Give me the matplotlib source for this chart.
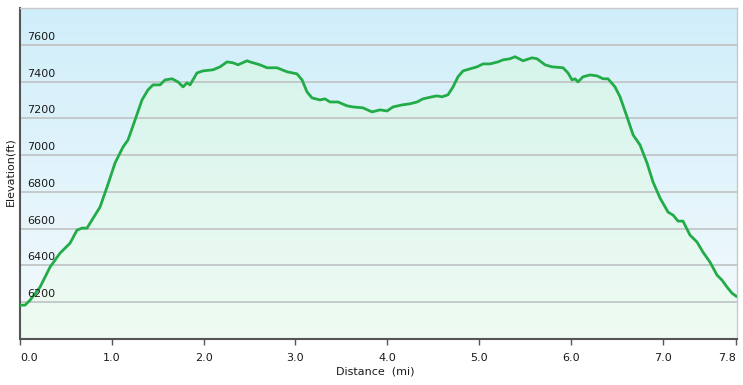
import numpy as np
import matplotlib
matplotlib.use("Agg")
import matplotlib.pyplot as plt
from matplotlib.colors import LinearSegmentedColormap
import matplotlib.transforms as mtransforms

# ---- data ----
distance_mi = [0.0, 0.054, 0.109, 0.218, 0.327, 0.436, 0.545, 0.621, 0.675, 0.730,
               0.784, 0.871, 0.948, 1.035, 1.122, 1.176, 1.253, 1.329, 1.394, 1.449,
               1.525, 1.580, 1.656, 1.721, 1.776, 1.819, 1.852, 1.928, 1.993, 2.102,
               2.179, 2.255, 2.320, 2.375, 2.473, 2.505, 2.614, 2.691, 2.800, 2.909,
               3.017, 3.072, 3.126, 3.181, 3.268, 3.322, 3.377, 3.464, 3.562, 3.627,
               3.736, 3.834, 3.922, 3.998, 4.063, 4.161, 4.248, 4.325, 4.390, 4.488,
               4.542, 4.597, 4.662, 4.717, 4.771, 4.826, 4.902, 4.978, 5.044, 5.120,
               5.207, 5.261, 5.338, 5.392, 5.479, 5.577, 5.632, 5.719, 5.795, 5.915,
               5.969, 6.013, 6.046, 6.078, 6.133, 6.209, 6.285, 6.351, 6.405, 6.481,
               6.536, 6.612, 6.678, 6.754, 6.830, 6.895, 6.972, 7.059, 7.113, 7.168,
               7.222, 7.298, 7.375, 7.440, 7.516, 7.593, 7.647, 7.702, 7.756, 7.800]
elevation_ft = [6184, 6184, 6211, 6282, 6391, 6467, 6521, 6592, 6603, 6603,
                6647, 6717, 6826, 6957, 7044, 7082, 7191, 7300, 7355, 7382,
                7382, 7409, 7415, 7398, 7371, 7393, 7382, 7447, 7458, 7464,
                7480, 7507, 7502, 7491, 7513, 7507, 7491, 7475, 7475, 7453,
                7442, 7409, 7344, 7311, 7300, 7306, 7289, 7289, 7268, 7262,
                7257, 7235, 7246, 7240, 7262, 7273, 7279, 7289, 7306, 7317,
                7322, 7317, 7328, 7371, 7426, 7458, 7469, 7480, 7496, 7496,
                7507, 7518, 7524, 7535, 7513, 7529, 7524, 7491, 7480, 7475,
                7447, 7409, 7415, 7398, 7426, 7436, 7431, 7415, 7415, 7371,
                7317, 7208, 7110, 7055, 6957, 6854, 6766, 6690, 6674, 6641,
                6641, 6565, 6527, 6472, 6418, 6347, 6320, 6282, 6249, 6233]

x_ticks = [0.0, 1.0, 2.0, 3.0, 4.0, 5.0, 6.0, 7.0, 7.8]
x_tick_labels = ["0.0", "1.0", "2.0", "3.0", "4.0", "5.0", "6.0", "7.0", "7.8"]
y_ticks = [6200, 6400, 6600, 6800, 7000, 7200, 7400, 7600]
x_label = "Distance  (mi)"
y_label = "Elevation(ft)"

x_min, x_max = 0.0, 7.81
y_min, y_max = 6000, 7800

W, H = 743, 385
fig = plt.figure(figsize=(W / 100, H / 100), dpi=100)
fig.patch.set_facecolor("white")
ax = fig.add_axes([20 / W, (H - 339) / H, (737 - 20) / W, (339 - 8) / H])
ax.set_xlim(x_min, x_max)
ax.set_ylim(y_min, y_max)

# background gradient (light blue at top -> near white at bottom)
bg_cmap = LinearSegmentedColormap.from_list("bg", ["#f4fafd", "#d0eefa"])
grad = np.linspace(0, 1, 256).reshape(-1, 1)
ax.imshow(grad, cmap=bg_cmap, aspect="auto", origin="lower",
          extent=[x_min, x_max, y_min, y_max], zorder=0)

# green gradient fill under the profile
poly = ax.fill_between(distance_mi, elevation_ft, y_min, color="none", zorder=1)
fill_cmap = LinearSegmentedColormap.from_list("fill", ["#effbf3", "#d2f3ea"])
im = ax.imshow(grad, cmap=fill_cmap, aspect="auto", origin="lower",
               extent=[x_min, x_max, y_min, y_max], zorder=1)
path = poly.get_paths()[0]
im.set_clip_path(path, transform=ax.transData)

# grid lines
for yv in y_ticks:
    ax.axhline(yv, color="#c2c6c7", lw=1.3, zorder=2)

ax.plot(distance_mi, elevation_ft, color="#22ac48", lw=2.0, zorder=3,
        solid_joinstyle="round")

# y tick labels inside the plot, just above the grid lines
offset = mtransforms.offset_copy(ax.get_yaxis_transform(), fig=fig, x=7, y=8, units="dots")
for yv in y_ticks:
    ax.text(0, yv, str(yv), transform=offset, ha="left", va="center",
            fontsize=8, color="#1a1a1a", zorder=4)
ax.set_yticks([])

ax.set_xticks(x_ticks)
ax.set_xticklabels(x_tick_labels, fontsize=8, color="#1a1a1a")
ax.tick_params(axis="x", direction="out", length=4, width=1, color="#555555", pad=6)
xt_labels = ax.get_xticklabels()
xt_labels[0].set_horizontalalignment("left")
xt_labels[-1].set_horizontalalignment("right")

for side in ["left", "bottom"]:
    ax.spines[side].set_color("#555555")
    ax.spines[side].set_linewidth(1.5)
for side in ["top", "right"]:
    ax.spines[side].set_color("#c8c8c8")
    ax.spines[side].set_linewidth(1.0)

fig.text(375 / W, 1 - 371 / H, x_label, ha="center", va="center", fontsize=8, color="#1a1a1a")
fig.text(10 / W, 1 - 172 / H, y_label, ha="center", va="center", rotation=90,
         fontsize=8, color="#1a1a1a")

fig.savefig("out.png", dpi=100, facecolor="white")
